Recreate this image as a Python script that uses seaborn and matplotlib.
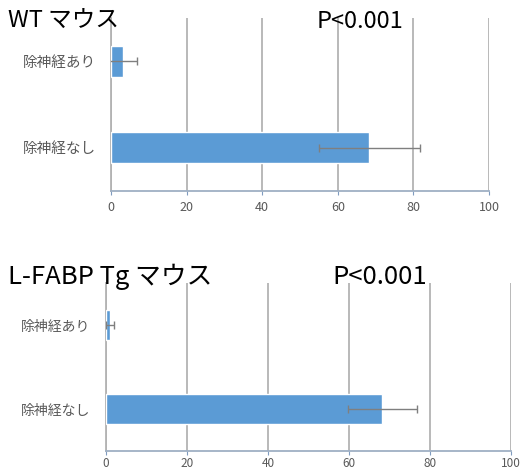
import matplotlib
matplotlib.use("Agg")
import matplotlib.pyplot as plt
import seaborn as sns
import pandas as pd

# data
categories = ["除神経あり", "除神経なし"]
wt_values = [3.2, 68.3]
wt_errors = [3.7, 13.4]
tg_values = [1.0, 68.2]
tg_errors = [1.0, 8.5]

titles = ["WT マウス", "L-FABP Tg マウス"]
p_labels = ["P<0.001", "P<0.001"]
x_ticks = [0, 20, 40, 60, 80, 100]

sns.set_style("white")
plt.rcParams['font.family'] = ['Noto Sans CJK JP', 'DejaVu Sans']

bar_color = "#5B9BD5"
grid_color = "#b3b3b3"
text_gray = "#595959"

fig = plt.figure(figsize=(5.28, 4.70), dpi=100)
axes_pos = [[0.2102, 0.5936, 0.716, 0.368],
            [0.2008, 0.0404, 0.767, 0.357]]
panels = [(wt_values, wt_errors), (tg_values, tg_errors)]
label_sizes = [10.5, 10]
tick_sizes = [9, 8.5]
tick_pads = [4, 1.5]
title_sizes = [17, 18.5]
title_pos = [(0.015, 0.955, 0.60, 0.955), (0.015, 0.41, 0.63, 0.41)]

for i, (vals, errs) in enumerate(panels):
    ax = fig.add_axes(axes_pos[i])
    df = pd.DataFrame({"group": categories, "value": vals, "err": errs})
    sns.barplot(data=df, x="value", y="group", orient="h", color=bar_color,
                width=0.36, saturation=1, ax=ax, zorder=3)
    ax.errorbar(df["value"], range(len(df)), xerr=df["err"], fmt="none",
                ecolor="#7f7f7f", elinewidth=1, capsize=3, capthick=1, zorder=4)
    ax.set_xlim(0, 100)
    ax.set_ylim(1.5, -0.5)
    ax.set_xticks(x_ticks)
    ax.set_xlabel("")
    ax.set_ylabel("")
    ax.xaxis.grid(True, color=grid_color, linewidth=1.3, zorder=0)
    ax.set_axisbelow(True)
    for s in ["top", "right"]:
        ax.spines[s].set_visible(False)
    ax.spines["left"].set_color(grid_color)
    ax.spines["left"].set_linewidth(1.3)
    ax.spines["bottom"].set_color("#9fb0c4")
    ax.spines["bottom"].set_linewidth(1.3)
    ax.tick_params(axis="x", bottom=True, length=3, color="#7f9bbf",
                   labelsize=tick_sizes[i], labelcolor=text_gray,
                   pad=tick_pads[i])
    ax.tick_params(axis="y", left=False, length=0, labelsize=label_sizes[i],
                   labelcolor=text_gray, pad=11)
    tx, ty, px, py = title_pos[i]
    fig.text(tx, ty, titles[i], fontsize=title_sizes[i], va="center",
             ha="left", color="black")
    fig.text(px, py, p_labels[i], fontsize=title_sizes[i], va="center",
             ha="left", color="black")

fig.savefig("out.png", dpi=100)
